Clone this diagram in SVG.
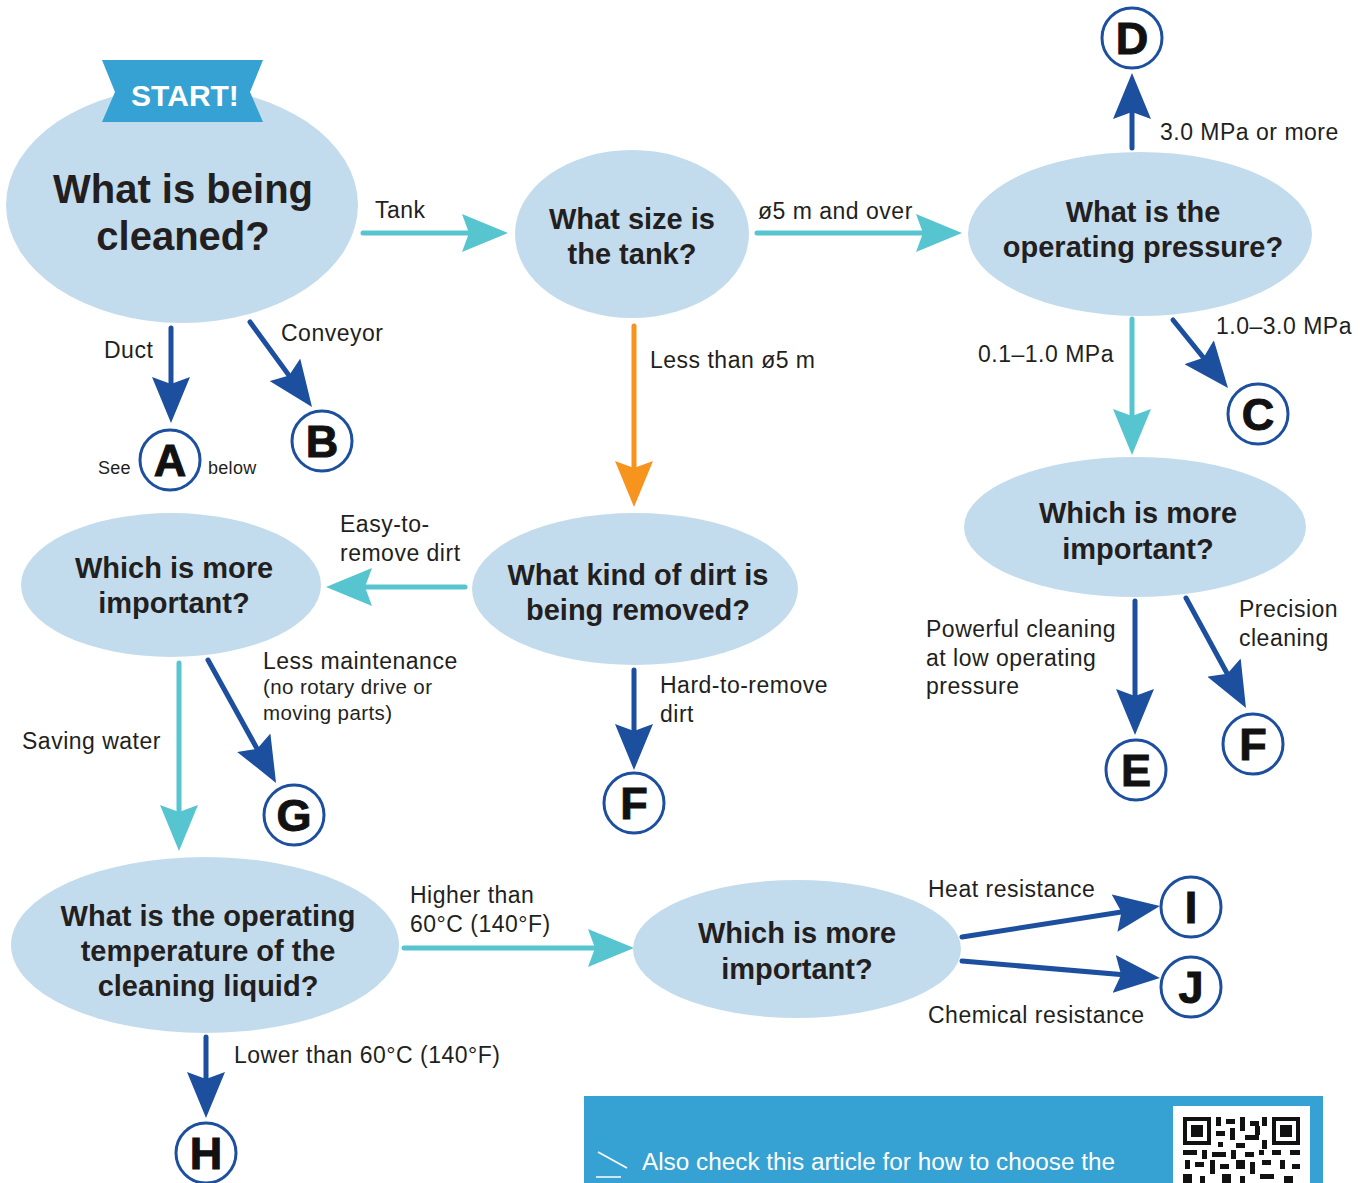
<svg xmlns="http://www.w3.org/2000/svg" width="1371" height="1183" viewBox="0 0 1371 1183">
<defs>
<style>
.node{fill:#c3dced;}
.q{font-family:"Liberation Sans",Arial,sans-serif;font-weight:bold;font-size:29px;fill:#231f20;text-anchor:middle;}
.lbl{font-family:"Liberation Sans",Arial,sans-serif;font-size:23px;letter-spacing:0.5px;fill:#231f20;}
.sm{font-family:"Liberation Sans",Arial,sans-serif;font-size:20.5px;letter-spacing:0.4px;fill:#231f20;}
.xs{font-family:"Liberation Sans",Arial,sans-serif;font-size:18px;letter-spacing:0.3px;fill:#231f20;}
.circ{fill:#fff;stroke:#1d4f9f;stroke-width:3;}
.let{font-family:"Liberation Sans",Arial,sans-serif;font-weight:900;font-size:45px;fill:#111;text-anchor:middle;stroke:#111;stroke-width:1;}
.teal{stroke:#56c5d0;stroke-width:5;fill:none;stroke-linecap:round;marker-end:url(#ah-teal);}
.blue{stroke:#1d4f9f;stroke-width:5;fill:none;stroke-linecap:round;marker-end:url(#ah-blue);}
.orange{stroke:#f7941d;stroke-width:5;fill:none;stroke-linecap:round;marker-end:url(#ah-orange);}
</style>
<marker id="ah-teal" viewBox="0 0 46 38" markerWidth="46" markerHeight="38" refX="36" refY="19" orient="auto" markerUnits="userSpaceOnUse"><path d="M0,0 L46,19 L0,38 L7,19 z" fill="#56c5d0"/></marker>
<marker id="ah-blue" viewBox="0 0 46 38" markerWidth="46" markerHeight="38" refX="36" refY="19" orient="auto" markerUnits="userSpaceOnUse"><path d="M0,0 L46,19 L0,38 L7,19 z" fill="#1d4f9f"/></marker>
<marker id="ah-orange" viewBox="0 0 46 38" markerWidth="46" markerHeight="38" refX="36" refY="19" orient="auto" markerUnits="userSpaceOnUse"><path d="M0,0 L46,19 L0,38 L7,19 z" fill="#f7941d"/></marker>
</defs>
<rect width="1371" height="1183" fill="#fff"/>

<g id="connectors">
<line class="teal" x1="363" y1="233" x2="498" y2="233"/>
<line class="teal" x1="757" y1="233" x2="952" y2="233"/>
<line class="blue" x1="1132" y1="148" x2="1132" y2="83"/>
<line class="teal" x1="1132" y1="319" x2="1132" y2="445"/>
<line class="blue" x1="1173" y1="320" x2="1221.7" y2="380.2"/>
<line class="orange" x1="634" y1="326" x2="634" y2="497"/>
<line class="blue" x1="171" y1="328" x2="171" y2="413"/>
<line class="blue" x1="250" y1="322" x2="306.1" y2="398.9"/>
<line class="teal" x1="465" y1="587" x2="336" y2="587"/>
<line class="blue" x1="634" y1="670" x2="634" y2="760"/>
<line class="blue" x1="1135" y1="601" x2="1135" y2="725"/>
<line class="blue" x1="1186" y1="598" x2="1241.2" y2="699.2"/>
<line class="teal" x1="179" y1="663" x2="179" y2="841"/>
<line class="blue" x1="208" y1="660" x2="271.2" y2="774.2"/>
<line class="teal" x1="404" y1="948" x2="624" y2="948"/>
<line class="blue" x1="206" y1="1037" x2="206" y2="1108"/>
<line class="blue" x1="962" y1="937" x2="1150.1" y2="907.5"/>
<line class="blue" x1="962" y1="961" x2="1150" y2="977.1"/>
<text class="lbl" x="375" y="218">Tank</text>
<text class="lbl" x="758" y="219">ø5 m and over</text>
<text class="lbl" x="1160" y="140">3.0 MPa or more</text>
<text class="lbl" x="978" y="362">0.1–1.0 MPa</text>
<text class="lbl" x="1216" y="334">1.0–3.0 MPa</text>
<text class="lbl" x="650" y="368">Less than ø5 m</text>
<text class="lbl" x="104" y="358">Duct</text>
<text class="lbl" x="281" y="341">Conveyor</text>
<text class="lbl" x="340" y="532">Easy-to-</text>
<text class="lbl" x="340" y="561">remove dirt</text>
<text class="lbl" x="660" y="693">Hard-to-remove</text>
<text class="lbl" x="660" y="722">dirt</text>
<text class="lbl" x="926" y="637">Powerful cleaning</text>
<text class="lbl" x="926" y="666">at low operating</text>
<text class="lbl" x="926" y="694">pressure</text>
<text class="lbl" x="1239" y="617">Precision</text>
<text class="lbl" x="1239" y="646">cleaning</text>
<text class="lbl" x="22" y="749">Saving water</text>
<text class="lbl" x="263" y="669">Less maintenance</text>
<text class="sm" x="263" y="694">(no rotary drive or</text>
<text class="sm" x="263" y="720">moving parts)</text>
<text class="lbl" x="410" y="903">Higher than</text>
<text class="lbl" x="410" y="932">60°C (140°F)</text>
<text class="lbl" x="234" y="1063">Lower than 60°C (140°F)</text>
<text class="lbl" x="928" y="897">Heat resistance</text>
<text class="lbl" x="928" y="1023">Chemical resistance</text>
</g>

<g id="n-cleaned">
<ellipse class="node" cx="182" cy="205" rx="176" ry="118"/>
<text class="q" x="183" y="203" style="font-size:40px">What is being</text>
<text class="q" x="183" y="250" style="font-size:40px">cleaned?</text>
</g>
<g id="start-banner">
<polygon points="102,60 263,60 250,92 263,122 102,122 115,92" fill="#36a2d3"/>
<text x="185" y="106" style="font-family:'Liberation Sans',Arial,sans-serif;font-weight:bold;font-size:30px;fill:#fff;text-anchor:middle">START!</text>
</g>
<g id="n-tanksize">
<ellipse class="node" cx="632" cy="234" rx="117" ry="84"/>
<text class="q" x="632" y="229">What size is</text>
<text class="q" x="632" y="264">the tank?</text>
</g>
<g id="n-pressure">
<ellipse class="node" cx="1140" cy="234" rx="172" ry="82"/>
<text class="q" x="1143" y="222">What is the</text>
<text class="q" x="1143" y="257">operating pressure?</text>
</g>
<g id="n-important-right">
<ellipse class="node" cx="1135" cy="527" rx="171" ry="70"/>
<text class="q" x="1138" y="523">Which is more</text>
<text class="q" x="1138" y="559">important?</text>
</g>
<g id="n-dirt">
<ellipse class="node" cx="635" cy="589" rx="163" ry="76"/>
<text class="q" x="638" y="585">What kind of dirt is</text>
<text class="q" x="638" y="620">being removed?</text>
</g>
<g id="n-important-left">
<ellipse class="node" cx="171" cy="585" rx="150" ry="72"/>
<text class="q" x="174" y="578">Which is more</text>
<text class="q" x="174" y="613">important?</text>
</g>
<g id="n-temperature">
<ellipse class="node" cx="205" cy="945" rx="194" ry="88"/>
<text class="q" x="208" y="926">What is the operating</text>
<text class="q" x="208" y="961">temperature of the</text>
<text class="q" x="208" y="996">cleaning liquid?</text>
</g>
<g id="n-important-bottom">
<ellipse class="node" cx="797" cy="949" rx="164" ry="69"/>
<text class="q" x="797" y="943">Which is more</text>
<text class="q" x="797" y="979">important?</text>
</g>

<g id="c-D"><circle class="circ" cx="1132" cy="38" r="30"/><text class="let" x="1132" y="54">D</text></g>
<g id="c-A"><circle class="circ" cx="170" cy="460" r="30"/><text class="let" x="170" y="476">A</text>
<text class="xs" x="98" y="474">See</text><text class="xs" x="208" y="474">below</text></g>
<g id="c-B"><circle class="circ" cx="322" cy="441" r="30"/><text class="let" x="322" y="457">B</text></g>
<g id="c-C"><circle class="circ" cx="1258" cy="414" r="30"/><text class="let" x="1258" y="430">C</text></g>
<g id="c-G"><circle class="circ" cx="294" cy="815" r="30"/><text class="let" x="294" y="831">G</text></g>
<g id="c-F1"><circle class="circ" cx="634" cy="803" r="30"/><text class="let" x="634" y="819">F</text></g>
<g id="c-E"><circle class="circ" cx="1136" cy="770" r="30"/><text class="let" x="1136" y="786">E</text></g>
<g id="c-F2"><circle class="circ" cx="1253" cy="744" r="30"/><text class="let" x="1253" y="760">F</text></g>
<g id="c-I"><circle class="circ" cx="1191" cy="907" r="30"/><text class="let" x="1191" y="923">I</text></g>
<g id="c-J"><circle class="circ" cx="1191" cy="987" r="30"/><text class="let" x="1191" y="1003">J</text></g>
<g id="c-H"><circle class="circ" cx="206" cy="1153" r="30"/><text class="let" x="206" y="1169">H</text></g>

<g id="info-box">
<rect x="584" y="1096" width="739" height="100" fill="#36a2d3"/>
<line x1="598" y1="1152" x2="627" y2="1168" stroke="#fff" stroke-width="1.5"/>
<line x1="596" y1="1177" x2="621" y2="1177" stroke="#fff" stroke-width="1.5"/>
<text x="642" y="1170" style="font-family:'Liberation Sans',Arial,sans-serif;font-size:23px;fill:#fff" textLength="473" lengthAdjust="spacingAndGlyphs">Also check this article for how to choose the</text>
<rect x="1173" y="1106" width="137" height="90" fill="#fff"/>
<g fill="#111">
<rect x="1183" y="1117" width="28" height="28"/><rect x="1187" y="1121" width="20" height="20" fill="#fff"/><rect x="1191" y="1125" width="12" height="12"/>
<rect x="1272" y="1117" width="28" height="28"/><rect x="1276" y="1121" width="20" height="20" fill="#fff"/><rect x="1280" y="1125" width="12" height="12"/>
<rect x="1216" y="1117" width="5" height="9"/><rect x="1226" y="1119" width="9" height="5"/><rect x="1240" y="1117" width="5" height="14"/><rect x="1250" y="1121" width="9" height="5"/><rect x="1262" y="1117" width="5" height="9"/>
<rect x="1216" y="1131" width="9" height="5"/><rect x="1230" y="1128" width="5" height="12"/><rect x="1245" y="1135" width="14" height="5"/><rect x="1255" y="1126" width="5" height="9"/>
<rect x="1218" y="1142" width="5" height="5"/><rect x="1236" y="1143" width="9" height="5"/><rect x="1262" y="1140" width="5" height="9"/>
<rect x="1183" y="1150" width="14" height="5"/><rect x="1202" y="1150" width="5" height="9"/><rect x="1212" y="1152" width="14" height="5"/><rect x="1231" y="1150" width="5" height="9"/><rect x="1245" y="1152" width="9" height="5"/><rect x="1259" y="1150" width="5" height="5"/><rect x="1272" y="1150" width="9" height="5"/><rect x="1290" y="1150" width="10" height="5"/>
<rect x="1185" y="1160" width="5" height="9"/><rect x="1195" y="1162" width="9" height="5"/><rect x="1210" y="1160" width="5" height="14"/><rect x="1220" y="1164" width="9" height="5"/><rect x="1236" y="1160" width="9" height="9"/><rect x="1250" y="1162" width="5" height="12"/><rect x="1262" y="1160" width="9" height="5"/><rect x="1280" y="1160" width="5" height="9"/><rect x="1292" y="1164" width="8" height="5"/>
<rect x="1183" y="1174" width="9" height="9"/><rect x="1200" y="1176" width="5" height="7"/><rect x="1222" y="1174" width="9" height="9"/><rect x="1240" y="1176" width="5" height="7"/><rect x="1260" y="1174" width="14" height="5"/><rect x="1284" y="1176" width="9" height="7"/>
</g>
</g>
</svg>
